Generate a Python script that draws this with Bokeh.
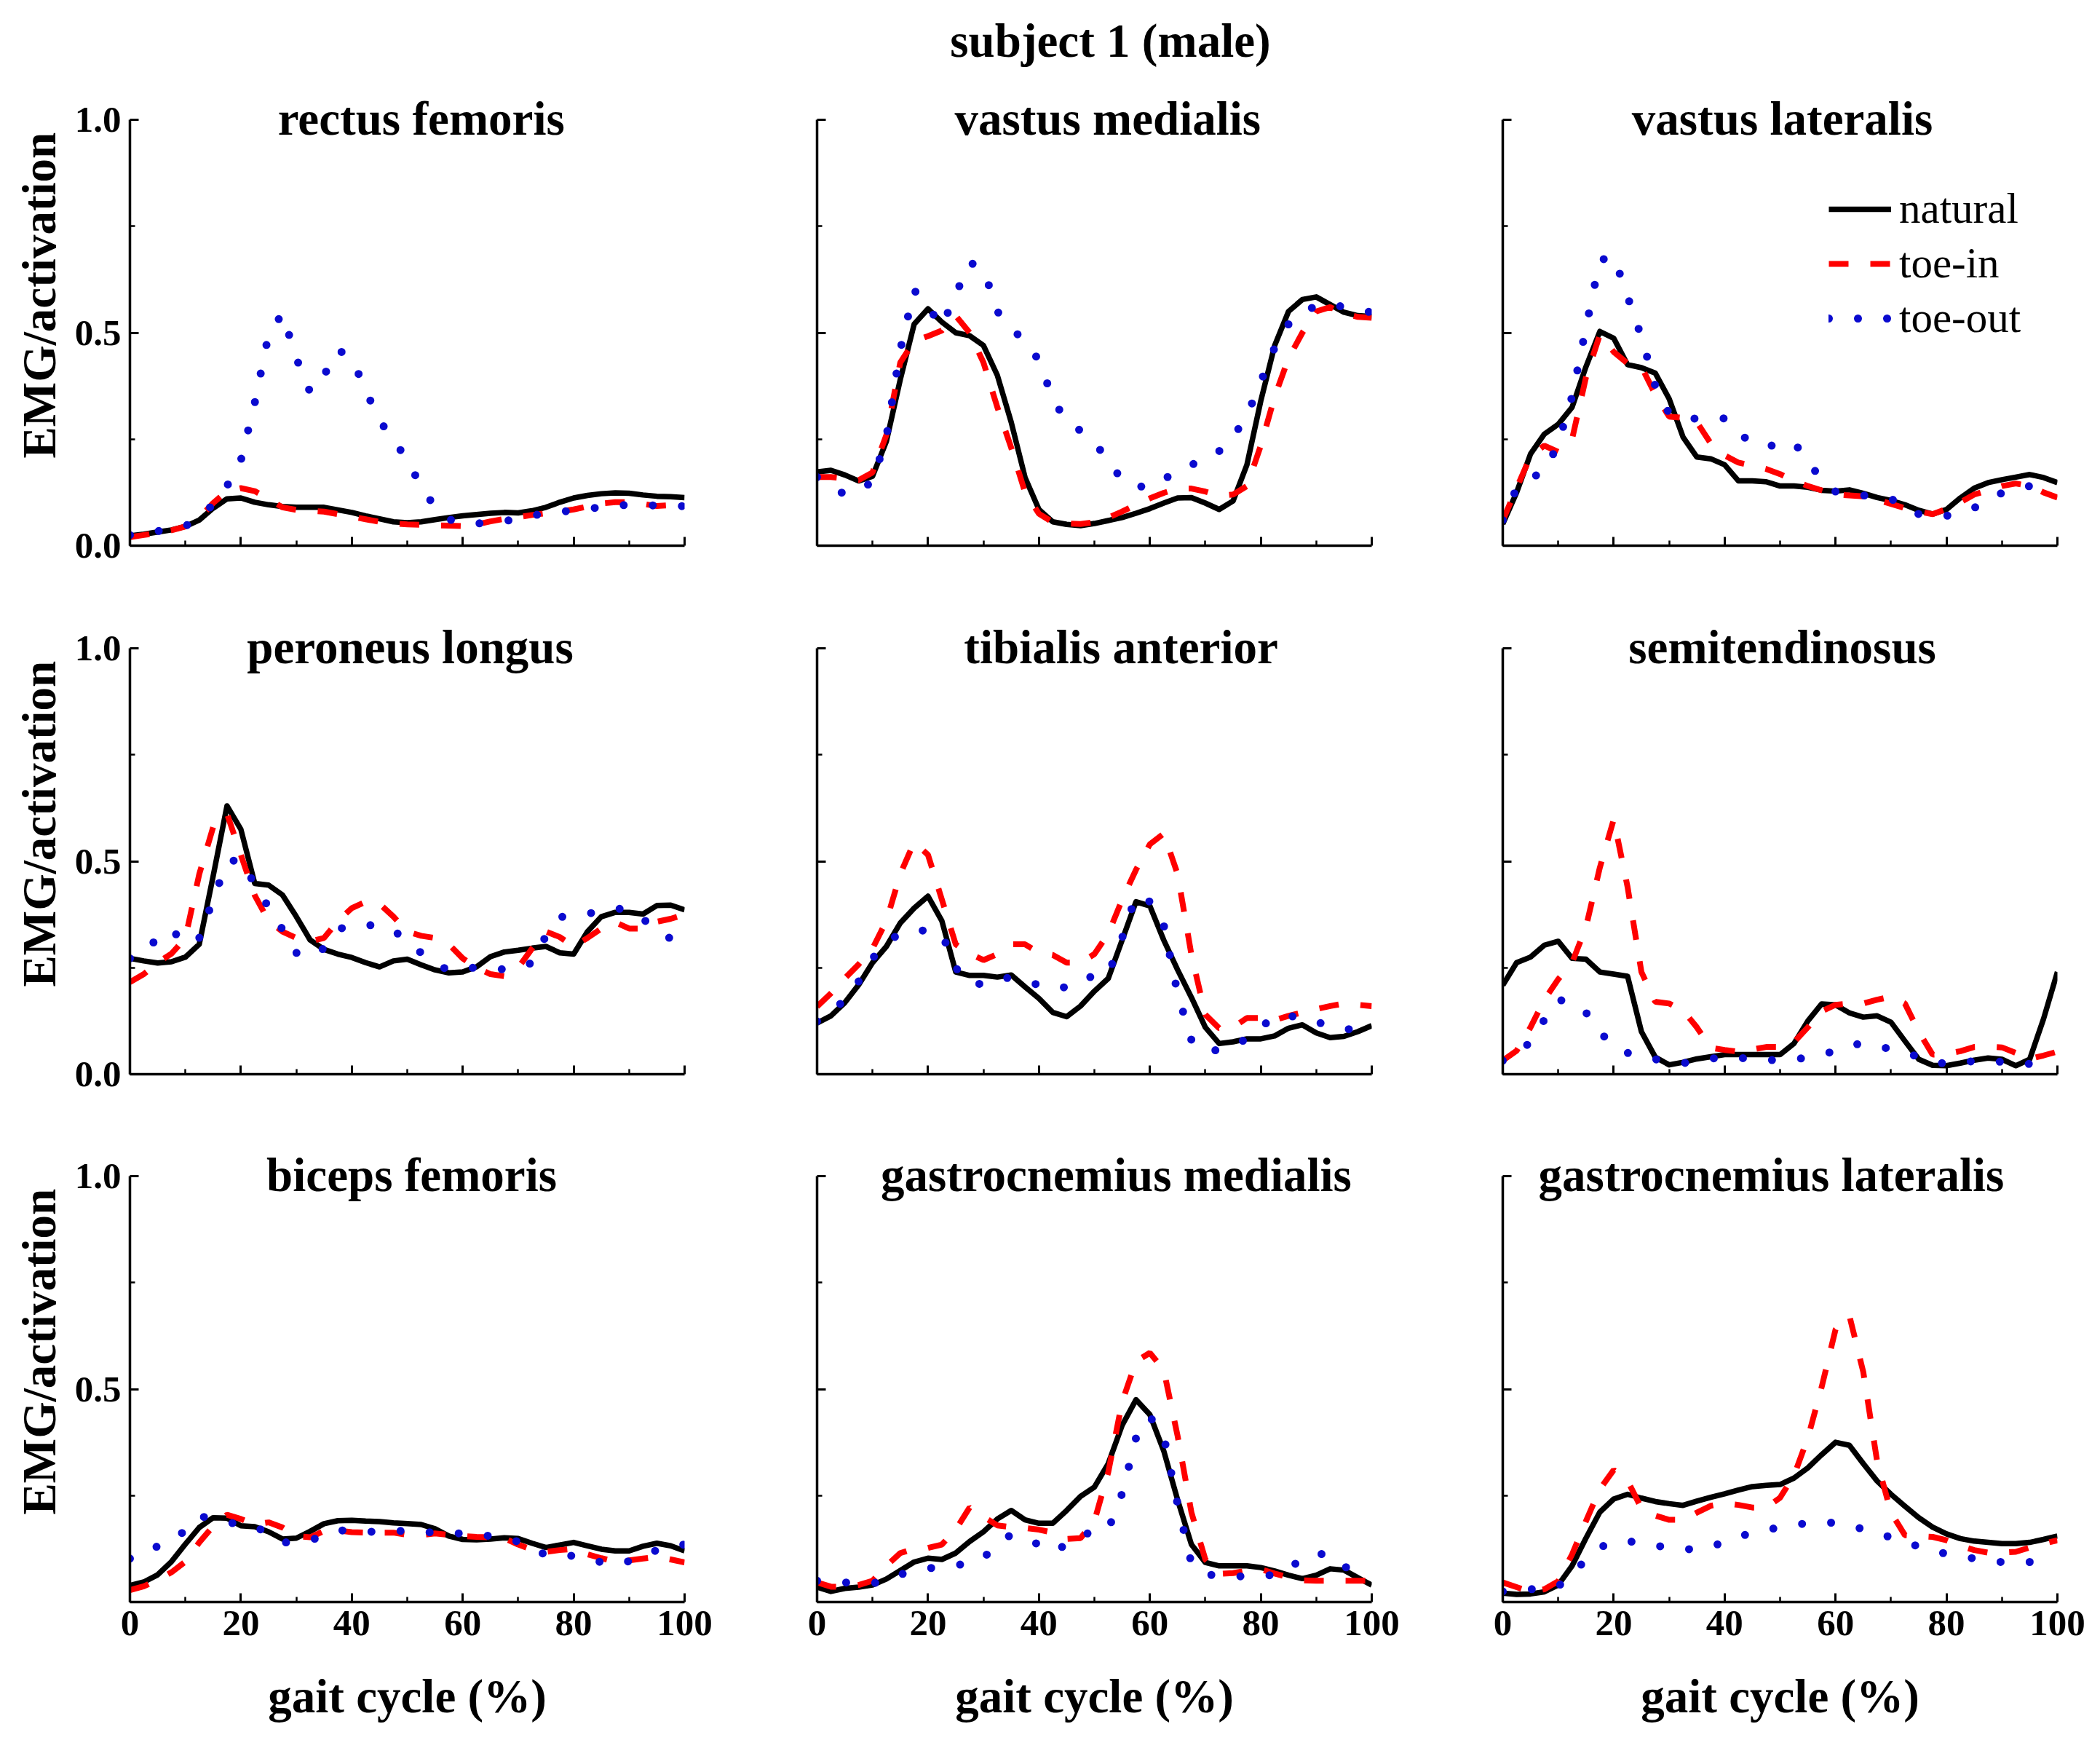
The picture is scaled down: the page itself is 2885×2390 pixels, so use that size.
from bokeh.plotting import figure
from bokeh.layouts import column, row
from bokeh.models import Label, Legend, LegendItem, FixedTicker, Range1d, Title
from bokeh.embed import file_html
from bokeh.resources import INLINE

# ---------------- data ----------------
gait = [0, 2.5, 5, 7.5, 10, 12.5, 15, 17.5, 20, 22.5, 25, 27.5, 30, 32.5, 35, 37.5,
        40, 42.5, 45, 47.5, 50, 52.5, 55, 57.5, 60, 62.5, 65, 67.5, 70, 72.5, 75, 77.5,
        80, 82.5, 85, 87.5, 90, 92.5, 95, 97.5, 100]

x_ticks = [0, 20, 40, 60, 80, 100]
x_minor = [10, 30, 50, 70, 90]
y_ticks = [0, 0.5, 1.0]
y_minor = [0.25, 0.75]
x_tick_labels = ["0", "20", "40", "60", "80", "100"]
y_tick_labels = ["0.0", "0.5", "1.0"]

muscles = ["rectus femoris", "vastus medialis", "vastus lateralis",
           "peroneus longus", "tibialis anterior", "semitendinosus",
           "biceps femoris", "gastrocnemius medialis", "gastrocnemius lateralis"]
conditions = ["natural", "toe-in", "toe-out"]

rf_natural = [0.023, 0.027, 0.032, 0.037, 0.045, 0.060, 0.088, 0.110, 0.112, 0.102, 0.096, 0.092, 0.090, 0.090, 0.090, 0.084, 0.078, 0.070, 0.063, 0.056, 0.054, 0.056, 0.061, 0.066, 0.070, 0.073, 0.076, 0.078, 0.077, 0.082, 0.090, 0.102, 0.112, 0.118, 0.122, 0.124, 0.123, 0.119, 0.116, 0.115, 0.113]
rf_toein = [0.020, 0.025, 0.030, 0.036, 0.045, 0.065, 0.100, 0.128, 0.135, 0.128, 0.110, 0.090, 0.084, 0.082, 0.080, 0.074, 0.068, 0.062, 0.056, 0.052, 0.050, 0.049, 0.048, 0.047, 0.046, 0.050, 0.057, 0.063, 0.067, 0.072, 0.076, 0.080, 0.085, 0.092, 0.099, 0.102, 0.102, 0.098, 0.093, 0.095, 0.097]
rf_toeout = [0.025, 0.030, 0.034, 0.040, 0.046, 0.065, 0.097, 0.140, 0.200, 0.335, 0.496, 0.545, 0.440, 0.360, 0.400, 0.460, 0.440, 0.365, 0.293, 0.250, 0.200, 0.140, 0.090, 0.062, 0.052, 0.052, 0.054, 0.058, 0.062, 0.070, 0.077, 0.080, 0.082, 0.086, 0.091, 0.094, 0.096, 0.096, 0.094, 0.092, 0.093]

vm_natural = [0.173, 0.177, 0.166, 0.152, 0.163, 0.245, 0.390, 0.520, 0.556, 0.525, 0.500, 0.493, 0.470, 0.400, 0.290, 0.160, 0.085, 0.056, 0.050, 0.047, 0.052, 0.059, 0.066, 0.076, 0.087, 0.100, 0.112, 0.113, 0.100, 0.085, 0.105, 0.190, 0.340, 0.470, 0.550, 0.578, 0.584, 0.566, 0.548, 0.540, 0.538]
vm_toein = [0.161, 0.161, 0.158, 0.154, 0.172, 0.260, 0.430, 0.480, 0.492, 0.505, 0.540, 0.500, 0.430, 0.325, 0.230, 0.125, 0.075, 0.055, 0.052, 0.051, 0.055, 0.066, 0.080, 0.096, 0.111, 0.124, 0.134, 0.134, 0.127, 0.117, 0.120, 0.140, 0.235, 0.350, 0.440, 0.500, 0.550, 0.560, 0.545, 0.537, 0.535]
vm_toeout = [0.161, 0.140, 0.120, 0.130, 0.150, 0.255, 0.460, 0.600, 0.560, 0.515, 0.590, 0.665, 0.650, 0.550, 0.510, 0.480, 0.435, 0.345, 0.290, 0.270, 0.240, 0.203, 0.152, 0.140, 0.137, 0.155, 0.177, 0.190, 0.202, 0.222, 0.255, 0.305, 0.385, 0.465, 0.520, 0.550, 0.562, 0.568, 0.560, 0.553, 0.548]

vl_natural = [0.051, 0.125, 0.215, 0.262, 0.285, 0.325, 0.420, 0.503, 0.487, 0.425, 0.418, 0.405, 0.345, 0.255, 0.208, 0.204, 0.190, 0.152, 0.152, 0.150, 0.140, 0.140, 0.137, 0.130, 0.128, 0.131, 0.123, 0.113, 0.106, 0.096, 0.083, 0.074, 0.085, 0.112, 0.135, 0.148, 0.155, 0.161, 0.167, 0.160, 0.148]
vl_toein = [0.059, 0.135, 0.210, 0.235, 0.220, 0.250, 0.395, 0.495, 0.455, 0.428, 0.420, 0.355, 0.303, 0.300, 0.290, 0.240, 0.212, 0.195, 0.188, 0.180, 0.168, 0.153, 0.140, 0.130, 0.120, 0.118, 0.116, 0.108, 0.098, 0.088, 0.080, 0.074, 0.086, 0.102, 0.120, 0.130, 0.140, 0.146, 0.140, 0.125, 0.113]
vl_toeout = [0.060, 0.135, 0.160, 0.172, 0.240, 0.350, 0.512, 0.670, 0.680, 0.585, 0.490, 0.375, 0.310, 0.300, 0.298, 0.298, 0.299, 0.265, 0.240, 0.233, 0.238, 0.243, 0.198, 0.155, 0.127, 0.122, 0.118, 0.115, 0.110, 0.092, 0.074, 0.071, 0.070, 0.078, 0.089, 0.105, 0.124, 0.134, 0.140, 0.142, 0.140]

pl_natural = [0.272, 0.266, 0.261, 0.264, 0.275, 0.305, 0.465, 0.630, 0.575, 0.448, 0.444, 0.421, 0.370, 0.315, 0.293, 0.282, 0.274, 0.262, 0.252, 0.266, 0.270, 0.257, 0.245, 0.238, 0.240, 0.252, 0.276, 0.287, 0.291, 0.296, 0.300, 0.285, 0.282, 0.335, 0.370, 0.380, 0.380, 0.376, 0.396, 0.397, 0.386]
pl_toein = [0.216, 0.235, 0.262, 0.283, 0.320, 0.470, 0.580, 0.612, 0.515, 0.420, 0.360, 0.335, 0.320, 0.312, 0.320, 0.360, 0.390, 0.405, 0.400, 0.370, 0.335, 0.325, 0.320, 0.305, 0.272, 0.250, 0.235, 0.230, 0.250, 0.295, 0.335, 0.322, 0.300, 0.320, 0.342, 0.357, 0.342, 0.342, 0.358, 0.365, 0.375]
pl_toeout = [0.272, 0.285, 0.320, 0.340, 0.305, 0.320, 0.410, 0.498, 0.505, 0.445, 0.392, 0.340, 0.285, 0.275, 0.296, 0.340, 0.350, 0.352, 0.346, 0.339, 0.310, 0.285, 0.260, 0.244, 0.247, 0.251, 0.249, 0.246, 0.248, 0.262, 0.325, 0.368, 0.376, 0.377, 0.382, 0.390, 0.385, 0.364, 0.340, 0.318, 0.305]

ta_natural = [0.120, 0.137, 0.168, 0.210, 0.262, 0.300, 0.355, 0.390, 0.418, 0.360, 0.240, 0.232, 0.232, 0.228, 0.233, 0.205, 0.178, 0.145, 0.135, 0.160, 0.195, 0.225, 0.315, 0.405, 0.395, 0.315, 0.245, 0.180, 0.110, 0.072, 0.076, 0.083, 0.083, 0.090, 0.108, 0.116, 0.097, 0.086, 0.089, 0.100, 0.114]
ta_toein = [0.159, 0.190, 0.225, 0.258, 0.295, 0.360, 0.470, 0.545, 0.515, 0.410, 0.305, 0.283, 0.268, 0.282, 0.305, 0.305, 0.285, 0.280, 0.262, 0.262, 0.282, 0.330, 0.410, 0.480, 0.540, 0.565, 0.470, 0.280, 0.140, 0.108, 0.110, 0.132, 0.132, 0.127, 0.137, 0.145, 0.153, 0.160, 0.166, 0.163, 0.160]
ta_toeout = [0.124, 0.145, 0.175, 0.218, 0.272, 0.310, 0.330, 0.338, 0.337, 0.330, 0.250, 0.212, 0.212, 0.226, 0.226, 0.217, 0.210, 0.200, 0.205, 0.226, 0.229, 0.235, 0.320, 0.420, 0.405, 0.350, 0.190, 0.080, 0.052, 0.058, 0.070, 0.082, 0.110, 0.136, 0.136, 0.135, 0.124, 0.111, 0.107, 0.103, 0.100]

st_natural = [0.209, 0.262, 0.275, 0.303, 0.312, 0.272, 0.270, 0.240, 0.235, 0.230, 0.100, 0.040, 0.022, 0.028, 0.036, 0.041, 0.046, 0.046, 0.046, 0.046, 0.046, 0.072, 0.125, 0.165, 0.163, 0.144, 0.134, 0.137, 0.122, 0.078, 0.035, 0.021, 0.020, 0.026, 0.033, 0.038, 0.035, 0.020, 0.035, 0.130, 0.240]
st_toein = [0.032, 0.055, 0.110, 0.175, 0.223, 0.262, 0.345, 0.485, 0.598, 0.440, 0.240, 0.170, 0.166, 0.150, 0.110, 0.062, 0.057, 0.053, 0.058, 0.064, 0.064, 0.075, 0.110, 0.148, 0.163, 0.166, 0.166, 0.175, 0.182, 0.166, 0.100, 0.046, 0.048, 0.054, 0.064, 0.065, 0.063, 0.050, 0.036, 0.044, 0.053]
st_toeout = [0.032, 0.050, 0.075, 0.128, 0.175, 0.168, 0.145, 0.098, 0.068, 0.050, 0.042, 0.035, 0.030, 0.026, 0.030, 0.037, 0.038, 0.038, 0.037, 0.034, 0.032, 0.035, 0.039, 0.046, 0.055, 0.067, 0.073, 0.066, 0.059, 0.050, 0.041, 0.032, 0.023, 0.027, 0.031, 0.031, 0.029, 0.027, 0.024, 0.023, 0.022]

bf_natural = [0.039, 0.047, 0.064, 0.095, 0.136, 0.175, 0.198, 0.197, 0.179, 0.177, 0.165, 0.148, 0.150, 0.166, 0.184, 0.191, 0.192, 0.190, 0.189, 0.186, 0.184, 0.182, 0.172, 0.155, 0.147, 0.146, 0.148, 0.151, 0.149, 0.138, 0.128, 0.134, 0.140, 0.132, 0.124, 0.120, 0.120, 0.131, 0.138, 0.132, 0.120]
bf_toein = [0.028, 0.037, 0.052, 0.070, 0.095, 0.140, 0.178, 0.205, 0.195, 0.182, 0.187, 0.175, 0.155, 0.152, 0.167, 0.168, 0.164, 0.163, 0.163, 0.163, 0.158, 0.157, 0.161, 0.158, 0.155, 0.153, 0.152, 0.150, 0.135, 0.123, 0.118, 0.122, 0.125, 0.112, 0.103, 0.095, 0.098, 0.102, 0.106, 0.100, 0.093]
bf_toeout = [0.102, 0.117, 0.131, 0.144, 0.168, 0.202, 0.195, 0.187, 0.183, 0.178, 0.160, 0.140, 0.140, 0.145, 0.156, 0.168, 0.168, 0.165, 0.165, 0.167, 0.167, 0.165, 0.163, 0.162, 0.161, 0.158, 0.155, 0.149, 0.142, 0.128, 0.110, 0.107, 0.109, 0.104, 0.093, 0.088, 0.096, 0.108, 0.122, 0.133, 0.135]

gm_natural = [0.035, 0.025, 0.032, 0.035, 0.040, 0.054, 0.074, 0.094, 0.103, 0.100, 0.115, 0.142, 0.165, 0.195, 0.215, 0.193, 0.185, 0.185, 0.215, 0.248, 0.270, 0.325, 0.415, 0.475, 0.440, 0.355, 0.240, 0.135, 0.093, 0.085, 0.085, 0.085, 0.081, 0.073, 0.063, 0.055, 0.063, 0.078, 0.075, 0.057, 0.040]
gm_toein = [0.046, 0.036, 0.036, 0.040, 0.050, 0.085, 0.115, 0.125, 0.127, 0.135, 0.170, 0.222, 0.200, 0.180, 0.176, 0.174, 0.170, 0.163, 0.148, 0.150, 0.190, 0.305, 0.470, 0.565, 0.585, 0.545, 0.390, 0.210, 0.100, 0.066, 0.068, 0.074, 0.077, 0.067, 0.058, 0.051, 0.050, 0.050, 0.050, 0.050, 0.050]
gm_toeout = [0.050, 0.048, 0.046, 0.045, 0.044, 0.050, 0.065, 0.072, 0.079, 0.083, 0.086, 0.092, 0.103, 0.138, 0.158, 0.148, 0.135, 0.118, 0.135, 0.157, 0.165, 0.170, 0.255, 0.385, 0.435, 0.390, 0.230, 0.090, 0.065, 0.062, 0.061, 0.060, 0.061, 0.064, 0.075, 0.105, 0.113, 0.112, 0.085, 0.062, 0.055]

gl_natural = [0.021, 0.018, 0.019, 0.024, 0.040, 0.085, 0.150, 0.211, 0.242, 0.253, 0.244, 0.236, 0.231, 0.227, 0.237, 0.246, 0.254, 0.263, 0.271, 0.274, 0.276, 0.291, 0.315, 0.346, 0.375, 0.368, 0.325, 0.284, 0.253, 0.225, 0.198, 0.176, 0.160, 0.149, 0.143, 0.140, 0.137, 0.137, 0.140, 0.147, 0.155]
gl_toein = [0.046, 0.035, 0.024, 0.030, 0.049, 0.112, 0.190, 0.265, 0.310, 0.285, 0.220, 0.203, 0.193, 0.193, 0.210, 0.226, 0.232, 0.228, 0.222, 0.222, 0.245, 0.297, 0.385, 0.505, 0.640, 0.672, 0.540, 0.330, 0.210, 0.157, 0.155, 0.153, 0.145, 0.132, 0.122, 0.116, 0.116, 0.118, 0.128, 0.137, 0.145]
gl_toeout = [0.025, 0.027, 0.030, 0.033, 0.037, 0.065, 0.100, 0.128, 0.142, 0.142, 0.141, 0.133, 0.127, 0.125, 0.123, 0.131, 0.140, 0.152, 0.164, 0.170, 0.175, 0.180, 0.186, 0.187, 0.186, 0.180, 0.171, 0.161, 0.152, 0.142, 0.130, 0.118, 0.114, 0.108, 0.102, 0.096, 0.094, 0.093, 0.094, 0.095, 0.095]

series = [
    (rf_natural, rf_toein, rf_toeout),
    (vm_natural, vm_toein, vm_toeout),
    (vl_natural, vl_toein, vl_toeout),
    (pl_natural, pl_toein, pl_toeout),
    (ta_natural, ta_toein, ta_toeout),
    (st_natural, st_toein, st_toeout),
    (bf_natural, bf_toein, bf_toeout),
    (gm_natural, gm_toein, gm_toeout),
    (gl_natural, gl_toein, gl_toeout),
]

suptitle = "subject 1 (male)"
ylabel = "EMG/activation"
xlabel = "gait cycle (%)"

# ---------------- layout / style ----------------
FONT = "Liberation Serif"
LEFT = [178, 137, 135]
RIGHT = 45
TITLE_H = 100
TOP = [64, 66, 65]
BOTTOM = [75, 75, 180]
FW, FH = 762, 585
TITLE_X = [52.6, 52.4, 50.4, 50.6, 54.8, 50.4, 50.8, 54.0, 48.5]
TITLE_SIZE = 65

# Times-Bold advance widths (per 1000 em) used to centre the panel titles
TB = {' ': 250, 'a': 500, 'b': 556, 'c': 444, 'd': 556, 'e': 444, 'f': 333,
      'g': 500, 'h': 556, 'i': 278, 'l': 278, 'm': 833, 'n': 556, 'o': 500,
      'p': 556, 'r': 444, 's': 389, 't': 333, 'u': 556, 'v': 500}


def text_width(s, size):
    return sum(TB.get(ch, 500) for ch in s) / 1000.0 * size


def style_axis(ax, ticks, minor, labels, show):
    ax.ticker = FixedTicker(ticks=ticks, minor_ticks=minor)
    ax.axis_line_width = 3.5
    ax.axis_line_color = "black"
    ax.major_tick_line_width = 3
    ax.major_tick_in = 12
    ax.major_tick_out = 0
    ax.minor_tick_line_width = 2.5
    ax.minor_tick_in = 7
    ax.minor_tick_out = 0
    ax.major_label_text_font = FONT
    ax.major_label_text_font_style = "bold"
    ax.major_label_text_font_size = "51px"
    ax.major_label_text_color = "black"
    ax.major_label_standoff = 12
    ax.axis_label_text_font = FONT
    ax.axis_label_text_font_style = "bold"
    ax.axis_label_text_font_size = "65px"
    ax.axis_label_text_color = "black"
    ov = {}
    for t, lab, s in zip(ticks, labels, show):
        ov[t] = lab if s else ""
    ax.major_label_overrides = ov


col_widths = [LEFT[c] + FW + RIGHT for c in range(3)]
total_w = sum(col_widths)

# top strip carrying the overall title
head = figure(width=total_w, height=TITLE_H, output_backend="svg", toolbar_location=None,
              x_range=Range1d(0, total_w), y_range=Range1d(0, TITLE_H),
              x_axis_location=None, y_axis_location=None, min_border=0)
head.outline_line_color = None
head.xgrid.visible = False
head.ygrid.visible = False
head.add_layout(Label(x=1525, y=45, text=suptitle, text_align="center",
                      text_baseline="middle", text_font=FONT, text_font_style="bold",
                      text_font_size="65px", text_color="black"))

plots = []
for i, name in enumerate(muscles):
    r, c = divmod(i, 3)
    w = col_widths[c]
    h = TOP[r] + FH + BOTTOM[r]
    p = figure(width=w, height=h, output_backend="svg", toolbar_location=None,
               x_range=Range1d(0, 100), y_range=Range1d(0, 1.0),
               min_border_left=LEFT[c], min_border_right=RIGHT,
               min_border_top=TOP[r], min_border_bottom=BOTTOM[r])
    p.outline_line_color = None
    p.xgrid.visible = False
    p.ygrid.visible = False

    style_axis(p.xaxis[0], x_ticks, x_minor, x_tick_labels,
               [r == 2] * len(x_ticks))
    style_axis(p.yaxis[0], y_ticks, y_minor, y_tick_labels,
               [c == 0 and not (r == 2 and t == 0) for t in y_ticks])
    if c == 0:
        # y label sits a little above the frame centre, as in the reference
        p.add_layout(Title(text=ylabel, align="left", offset=120, standoff=20,
                           text_font=FONT, text_font_style="bold",
                           text_font_size="65px", text_color="black"), "left")
    if r == 2:
        p.xaxis[0].axis_label = xlabel
        p.xaxis[0].axis_label_standoff = 45

    nat, tin, tout = series[i]
    rn = p.line(gait, nat, line_color="black", line_width=7.5, line_join="round")
    rt = p.line(gait, tin, line_color="#FF0000", line_width=8, line_dash="27 30")
    ro = p.line(gait, tout, line_color="#0A0ACF", line_width=11, line_dash="0 40",
                line_cap="round")

    off = TITLE_X[i] / 100.0 * FW - text_width(name, TITLE_SIZE) / 2.0
    p.add_layout(Title(text=name, align="left", offset=off, standoff=-68,
                       text_font=FONT, text_font_style="bold",
                       text_font_size="%dpx" % TITLE_SIZE, text_color="black"), "above")

    if r == 0 and c == 2:
        legend = Legend(items=[LegendItem(label=conditions[0], renderers=[rn]),
                               LegendItem(label=conditions[1], renderers=[rt]),
                               LegendItem(label=conditions[2], renderers=[ro])],
                        location=(448, 278), orientation="vertical",
                        glyph_width=86, glyph_height=64, label_height=64,
                        label_standoff=11, spacing=6, padding=0, margin=0,
                        border_line_color=None, background_fill_alpha=0,
                        label_text_font=FONT, label_text_font_size="59px",
                        label_text_color="black")
        p.add_layout(legend)
    plots.append(p)

layout = column(head, row(*plots[0:3]), row(*plots[3:6]), row(*plots[6:9]))

with open("out.html", "w") as f:
    f.write(file_html(layout, INLINE))
